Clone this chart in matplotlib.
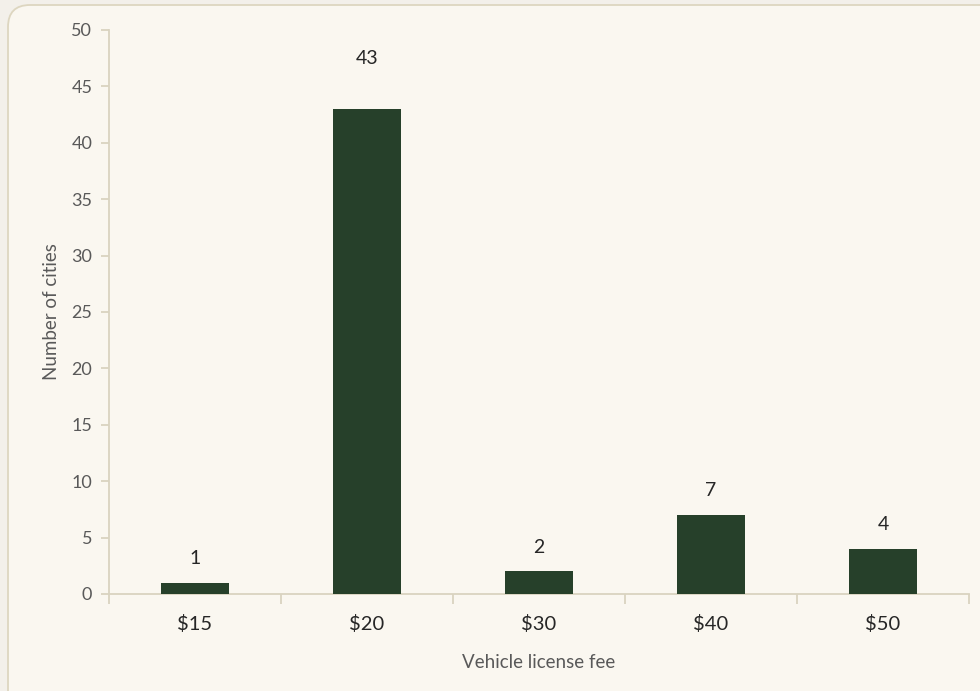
import matplotlib
matplotlib.use("Agg")
import matplotlib.pyplot as plt
from matplotlib.patches import FancyBboxPatch
import numpy as np

categories = ["$15", "$20", "$30", "$40", "$50"]
counts = [1, 43, 2, 7, 4]
y_ticks = [0, 5, 10, 15, 20, 25, 30, 35, 40, 45, 50]

plt.rcParams['font.family'] = ['Lato', 'DejaVu Sans']

W, H = 980, 691
fig = plt.figure(figsize=(W/100, H/100), dpi=100)
fig.patch.set_facecolor('#f3f0ea')

# background card in pixel coordinates
bg = fig.add_axes([0, 0, 1, 1], zorder=-5)
bg.set_xlim(0, W)
bg.set_ylim(H, 0)
bg.axis('off')
card = FancyBboxPatch((8, 5), 1020, 720,
                      boxstyle="round,pad=0,rounding_size=22",
                      facecolor='#faf7f0', edgecolor='#ddd6c0', linewidth=1.3)
bg.add_patch(card)

def px(x, y):
    return x / W, 1 - y / H

left, top = px(109, 30)
right, bottom = px(969, 594)
ax = fig.add_axes([left, bottom, right - left, top - bottom])
ax.set_facecolor('none')

x = np.arange(len(categories))
ax.bar(x, counts, width=0.4, color='#26402a', zorder=3)
for xi, v in zip(x, counts):
    off = 3.7 if v > 40 else 1.4
    ax.text(xi, v + off, str(v), ha='center', va='bottom', fontsize=14, color='#262626')

ax.set_xlim(-0.5, len(categories) - 0.5)
ax.set_ylim(0, 50)
ax.set_yticks(y_ticks)
ax.set_yticklabels([str(t) for t in y_ticks], fontsize=13, color='#595959')

ax.set_xticks(x)
ax.set_xticklabels(categories, fontsize=14.5, color='#262626')
ax.tick_params(axis='x', which='major', length=0, pad=15)
ax.set_xticks(np.arange(-0.5, len(categories)), minor=True)
ax.tick_params(axis='x', which='minor', length=7, color='#d9d3c0', width=1.3, direction='out')
ax.tick_params(axis='y', length=6, color='#d9d3c0', width=1.3, direction='out', pad=6)

for s in ['top', 'right']:
    ax.spines[s].set_visible(False)
for s in ['left', 'bottom']:
    ax.spines[s].set_color('#d9d3c0')
    ax.spines[s].set_linewidth(1.3)

ax.set_xlabel("Vehicle license fee", fontsize=13.5, color='#595959', labelpad=15)
ax.set_ylabel("Number of cities", fontsize=13.5, color='#595959', labelpad=8)

fig.savefig("out.png", dpi=100, facecolor=fig.get_facecolor())
